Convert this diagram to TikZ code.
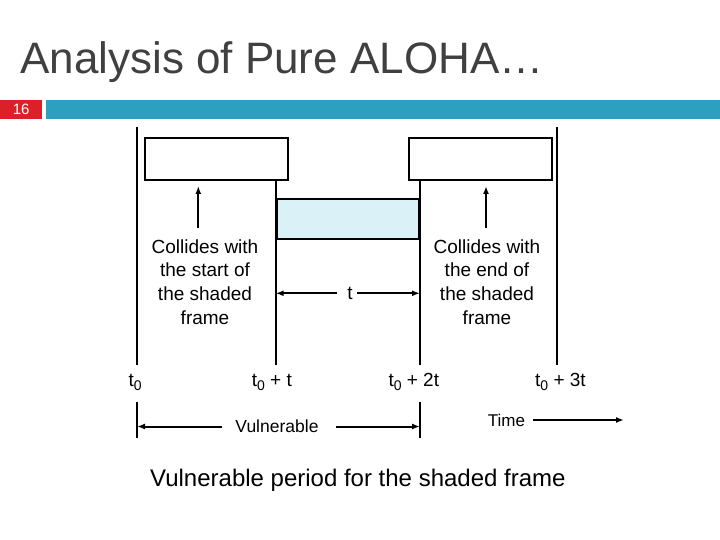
\documentclass[tikz,border=0pt]{standalone}
\usepackage{fontspec}
\setmainfont{Liberation Sans}
\usetikzlibrary{arrows.meta}
\definecolor{titlegray}{HTML}{404040}
\definecolor{numred}{HTML}{DD1F2A}
\definecolor{barteal}{HTML}{2CA0BE}
\definecolor{shadecol}{HTML}{DAF1F7}
\newcommand{\myfs}[1]{\fontsize{#1}{#1}\selectfont}
\newcommand{\tsub}[1]{\raisebox{-3.5pt}{\myfs{14}#1}}
\begin{document}
\begin{tikzpicture}[x=1pt,y=-1pt,
  tline/.style={line width=2pt},
  arr/.style={line width=2pt,-{Latex[length=8pt,width=6pt]}},
  framebox/.style={draw,line width=2pt,minimum width=143pt,minimum height=42pt,inner sep=0pt},
  lbl/.style={font=\myfs{19},inner sep=0pt},
  note/.style={font=\fontsize{19}{23.7}\selectfont,inner sep=0pt,align=center},
 ]
\useasboundingbox (0,0) rectangle (720,540);
% header
\node[anchor=base west,inner sep=0,text=titlegray,font=\myfs{44}] (title) at (20,73.3) {Analysis of Pure ALOHA…};
\node[fill=numred,minimum width=42pt,minimum height=19pt,inner sep=0,anchor=north west,text=white,font=\myfs{15}] (num) at (0,100) {16};
\node[fill=barteal,minimum width=674pt,minimum height=19pt,inner sep=0,anchor=north west] (bar) at (46,100) {};
% frames
\node[framebox] (f1) at (216,159) {};
\node[framebox] (f2) at (480.5,159) {};
\node[framebox,fill=shadecol,minimum width=142.6pt,minimum height=40.6pt] (fs) at (348,219) {};
% time lines
\coordinate (l1t) at (137,127);
\coordinate (l1b) at (137,365);
\coordinate (l2b) at (275.7,365);
\coordinate (l3b) at (420,365);
\coordinate (l4t) at (557,127);
\coordinate (l4b) at (557,365);
\draw[tline] (l1t) -- (l1b);
\draw[tline] (l2b |- f1.south) -- (l2b);
\draw[tline] (l3b |- f2.south) -- (l3b);
\draw[tline] (l4t) -- (l4b);
% collision notes
\node[note] (c1) at (205,282) {Collides with\\the start of\\the shaded\\frame};
\node[note] (c2) at (487,282) {Collides with\\the end of\\the shaded\\frame};
\coordinate (a1) at (198.3,228);
\coordinate (a2) at (486,228);
\draw[arr,shorten >=5pt] (a1) -- (a1 |- f1.south);
\draw[arr,shorten >=5pt] (a2) -- (a2 |- f2.south);
% t dimension
\node[lbl] (tt) at (350,293.3) {t};
\coordinate (tl) at (337,293.3);
\coordinate (tr) at (357,293.3);
\draw[arr] (tl) -- (l2b |- tt);
\draw[arr] (tr) -- (l3b |- tt);
% time labels
\node[lbl,anchor=base west] (t0) at (128.3,386.7) {t\tsub{0}};
\node[lbl,anchor=base west] (t1) at (251.7,386.7) {t\tsub{0} + t};
\node[lbl,anchor=base west] (t2) at (388.3,386.7) {t\tsub{0} + 2t};
\node[lbl,anchor=base west] (t3) at (535,386.7) {t\tsub{0} + 3t};
% vulnerable
\coordinate (v1t) at (137,402);
\coordinate (v1b) at (137,438);
\coordinate (v2t) at (420,402);
\coordinate (v2b) at (420,438);
\draw[tline] (v1t) -- (v1b);
\draw[tline] (v2t) -- (v2b);
\node[font=\myfs{17.5},inner sep=0] (vul) at (277,426.5) {Vulnerable};
\coordinate (vl) at (221.7,426.5);
\coordinate (vr) at (336,426.5);
\draw[arr] (vl) -- (v1t |- vul);
\draw[arr] (vr) -- (v2t |- vul);
% time axis
\node[font=\myfs{17},inner sep=0] (time) at (506.5,420) {Time};
\coordinate (ts) at (533,420);
\coordinate (te) at (624,420);
\draw[arr] (ts) -- (te);
% caption
\node[anchor=base west,inner sep=0,font=\myfs{24}] (cap) at (150,486.7) {Vulnerable period for the shaded frame};
\end{tikzpicture}
\end{document}
